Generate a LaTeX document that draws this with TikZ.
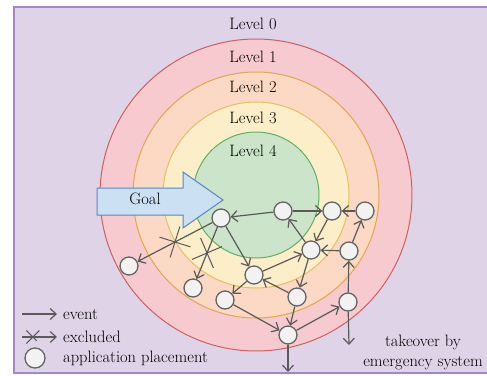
\documentclass[tikz,border=0pt]{standalone}
\usetikzlibrary{arrows.meta,shapes.misc}
\definecolor{framefill}{RGB}{223,212,231}
\definecolor{frameline}{RGB}{165,135,195}
\definecolor{lvlAfill}{RGB}{246,202,206}
\definecolor{lvlAline}{RGB}{208,95,95}
\definecolor{lvlBfill}{RGB}{251,217,197}
\definecolor{lvlBline}{RGB}{226,168,72}
\definecolor{lvlCfill}{RGB}{253,238,202}
\definecolor{lvlCline}{RGB}{228,192,96}
\definecolor{lvlDfill}{RGB}{203,228,202}
\definecolor{lvlDline}{RGB}{95,178,95}
\definecolor{goalfill}{RGB}{204,224,243}
\definecolor{goalline}{RGB}{85,135,195}
\definecolor{appfill}{RGB}{242,242,242}
\definecolor{appline}{RGB}{100,100,100}
\definecolor{evline}{RGB}{90,90,90}
\tikzset{
  app/.style={circle,draw=appline,fill=appfill,line width=1.3pt,minimum size=18pt,inner sep=0pt},
  ev/.style={draw=evline,line width=1.2pt,-{Straight Barb[length=6pt,width=11pt]}},
  cut/.style={cross out,draw=evline,line width=1pt,minimum size=22pt,inner sep=0pt,sloped},
  lbl/.style={font=\rmfamily\fontsize{16.5}{20}\selectfont,inner sep=2pt}
}
\begin{document}
\begin{tikzpicture}[x=1pt,y=-1pt]
  \useasboundingbox (0,0) rectangle (487,375);
  \draw[fill=framefill,draw=frameline,line width=1.5pt] (14,7) rectangle (500,373);
  % levels
  \draw[fill=lvlAfill,draw=lvlAline,line width=1pt] (256,195) circle [radius=156pt];
  \draw[fill=lvlBfill,draw=lvlBline,line width=1pt] (256,195) circle [radius=123pt];
  \draw[fill=lvlCfill,draw=lvlCline,line width=1pt] (256,195) circle [radius=93pt];
  \draw[fill=lvlDfill,draw=lvlDline,line width=1pt] (256,195) circle [radius=63pt];
  \node[lbl] (lv0) at (253,24) {Level 0};
  \node[lbl] (lv1) at (253,57) {Level 1};
  \node[lbl] (lv2) at (253,87) {Level 2};
  \node[lbl] (lv3) at (253,118) {Level 3};
  \node[lbl] (lv4) at (253,151) {Level 4};
  % goal
  \draw[fill=goalfill,draw=goalline,line width=1pt]
    (97,188) -- (183,188) -- (183,172) -- (223,200) -- (183,228) -- (183,215) -- (97,215) -- cycle;
  \node[lbl] (goal) at (145,199) {Goal};
  % applications
  \node[app] (0) at (221,218) {};
  \node[app] (1) at (283,211) {};
  \node[app] (2) at (332,211) {};
  \node[app] (3) at (365,211) {};
  \node[app] (4) at (311,250) {};
  \node[app] (5) at (349,251) {};
  \node[app] (6) at (254,275) {};
  \node[app] (7) at (129,266) {};
  \node[app] (8) at (193,288) {};
  \node[app] (9) at (225,300) {};
  \node[app] (10) at (297,297) {};
  \node[app] (11) at (348,302) {};
  \node[app] (12) at (288,335) {};
  \coordinate (out11) at (349,345);
  \coordinate (out12) at (288,372);
  \begin{scope}[ev]
    \draw (1) to (0);
    \draw (1) to (2);
    \draw (3) to (2);
    \draw (2) to (4);
    \draw (4) to (1);
    \draw (5) to (4);
    \draw (5) to (3);
    \draw (11) to (5);
    \draw (12) to (11);
    \draw (9) to (12);
    \draw (10) to (12);
    \draw (4) to (10);
    \draw (10) to (6);
    \draw (6) to (4);
    \draw (0) to (6);
    \draw (6) to (9);
    \draw (0) to node[cut] {} (7);
    \draw (0) to node[cut] {} (8);
    \draw (11) to (out11);
    \draw (12) to (out12);
  \end{scope}
  % legend
  \node[lbl,anchor=west] (evt) at (61,314) {event};
  \node[lbl,anchor=west] (exc) at (61,337) {excluded};
  \node[lbl,anchor=west] (plc) at (61,358) {application placement};
  \coordinate (evtS) at (22,314);
  \coordinate (excS) at (22,337);
  \draw[ev,shorten >=4pt] (evtS) to (evt.west);
  \draw[ev,shorten >=4pt] (excS) to node[cut,pos=0.28,minimum size=12pt] {} (exc.west);
  \node[app,minimum size=20pt] (plcC) at (35,358) {};
  \node[lbl,align=center] (tko) at (423,352) {takeover by\\emergency system};
\end{tikzpicture}
\end{document}
